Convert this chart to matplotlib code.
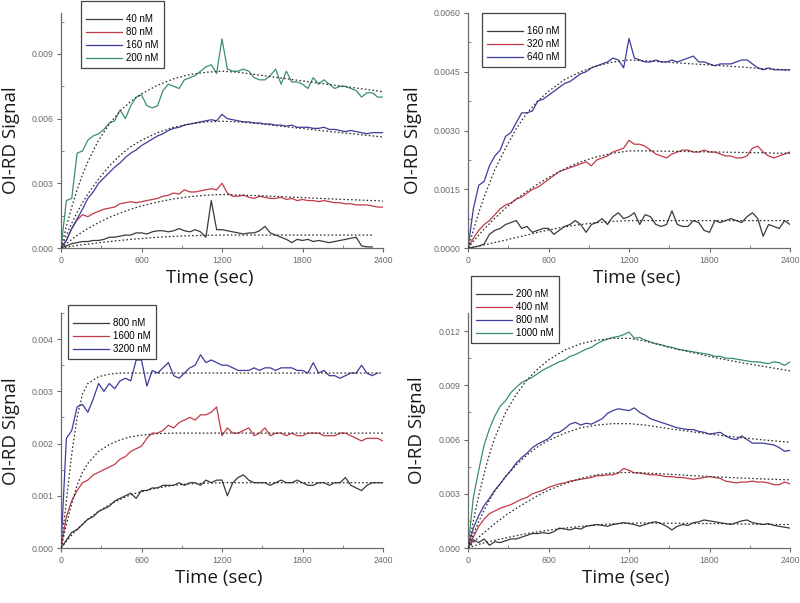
import numpy as np
import matplotlib
matplotlib.use("Agg")
import matplotlib.pyplot as plt
from matplotlib.ticker import MultipleLocator, FormatStrFormatter

nan = np.nan

# sampling grid of the measured traces (sec) and of the fitted curves
TIME = np.arange(0, 2401, 40)
FIT_TIME = [0, 40, 80, 120, 160, 200, 280, 360, 440, 520, 600, 720, 840, 960,
            1080, 1200, 1320, 1500, 1680, 1860, 2040, 2200, 2320, 2400]

# all signals in units of 1e-3
# ---- panel A : 40 / 80 / 160 / 200 nM
A_LABELS = ["40 nM", "80 nM", "160 nM", "200 nM"]
A_40 = [0, 0.1, 0.2, 0.25, 0.3, 0.3, 0.35, 0.35, 0.4, 0.5,
        0.5, 0.55, 0.6, 0.6, 0.7, 0.7, 0.65, 0.75, 0.8, 0.8,
        0.75, 0.8, 0.9, 0.8, 0.75, 0.85, 0.75, 0.5, 2.2, 0.85,
        0.85, 0.8, 0.75, 0.7, 0.65, 0.7, 0.7, 0.8, 1.0, 0.7,
        0.6, 0.5, 0.4, 0.25, 0.4, 0.35, 0.4, 0.3, 0.35, 0.3,
        0.25, 0.3, 0.35, 0.4, 0.45, 0.5, 0.1, 0.05, 0.05, nan,
        nan]
A_80 = [0, 0.35, 0.9, 1.3, 1.55, 1.45, 1.6, 1.7, 1.8, 1.85,
        1.9, 2.05, 2.1, 2.15, 2.1, 2.15, 2.2, 2.25, 2.3, 2.4,
        2.45, 2.55, 2.5, 2.7, 2.6, 2.6, 2.65, 2.7, 2.75, 2.7,
        3.0, 2.55, 2.4, 2.4, 2.45, 2.35, 2.3, 2.4, 2.35, 2.3,
        2.3, 2.35, 2.25, 2.3, 2.2, 2.25, 2.2, 2.2, 2.15, 2.2,
        2.15, 2.1, 2.1, 2.05, 2.05, 2.0, 2.0, 2.0, 1.95, 1.9,
        1.9]
A_160 = [0, 0.35, 0.9, 1.35, 1.8, 2.3, 2.6, 3.0, 3.25, 3.5,
         3.75, 3.95, 4.2, 4.4, 4.55, 4.75, 4.9, 5.05, 5.2, 5.3,
         5.45, 5.55, 5.6, 5.7, 5.75, 5.8, 5.85, 5.9, 5.95, 5.9,
         6.2, 6.0, 5.95, 5.9, 5.85, 5.85, 5.8, 5.8, 5.75, 5.75,
         5.7, 5.7, 5.65, 5.7, 5.6, 5.6, 5.6, 5.55, 5.55, 5.6,
         5.5, 5.5, 5.45, 5.4, 5.45, 5.4, 5.35, 5.3, 5.35, 5.35,
         5.35]
A_200 = [0, 2.2, 2.3, 4.4, 4.5, 5.0, 5.2, 5.3, 5.5, 5.8,
         5.9, 6.4, 6.0, 6.6, 7.0, 7.1, 6.6, 6.5, 6.6, 7.3,
         7.6, 7.5, 7.4, 7.8, 7.9, 8.0, 8.2, 8.4, 8.5, 8.1,
         9.7, 8.3, 8.2, 8.2, 8.3, 8.2, 7.9, 7.8, 7.8, 8.0,
         8.3, 7.6, 8.2, 7.7, 7.7, 7.6, 7.4, 7.9, 7.6, 7.8,
         7.6, 7.4, 7.5, 7.5, 7.4, 7.3, 7.0, 7.2, 7.2, 7.0,
         7.0]
A_FIT_40 = [0, 0.04, 0.08, 0.12, 0.15, 0.18, 0.24, 0.3, 0.35, 0.4, 0.44, 0.5,
            0.54, 0.57, 0.59, 0.6, 0.6, 0.6, 0.6, 0.6, 0.6, 0.6, 0.6, nan]
A_FIT_80 = [0, 0.2, 0.4, 0.58, 0.75, 0.9, 1.18, 1.42, 1.62, 1.8, 1.95, 2.13,
            2.28, 2.38, 2.45, 2.48, 2.46, 2.42, 2.37, 2.32, 2.27, 2.23, 2.2, 2.18]
A_FIT_160 = [0, 0.6, 1.15, 1.65, 2.1, 2.5, 3.2, 3.8, 4.3, 4.7, 5.0, 5.35,
             5.6, 5.75, 5.85, 5.88, 5.85, 5.75, 5.62, 5.5, 5.38, 5.28, 5.2, 5.15]
A_FIT_200 = [0, 1.0, 1.9, 2.7, 3.4, 4.0, 5.0, 5.75, 6.35, 6.8, 7.15, 7.55,
             7.85, 8.05, 8.15, 8.2, 8.15, 8.0, 7.85, 7.7, 7.55, 7.42, 7.32, 7.25]

# ---- panel B : 160 / 320 / 640 nM
B_LABELS = ["160 nM", "320 nM", "640 nM"]
B_160 = [0, 0.02, 0.05, 0.1, 0.35, 0.45, 0.5, 0.6, 0.65, 0.7,
         0.5, 0.55, 0.4, 0.45, 0.5, 0.5, 0.35, 0.45, 0.55, 0.6,
         0.7, 0.6, 0.4, 0.6, 0.65, 0.75, 0.6, 0.8, 0.9, 0.75,
         0.8, 0.9, 0.6, 0.85, 0.8, 0.6, 0.55, 0.6, 0.95, 0.6,
         0.55, 0.55, 0.7, 0.65, 0.45, 0.4, 0.7, 0.65, 0.7, 0.75,
         0.7, 0.65, 0.8, 0.9, 0.75, 0.3, 0.6, 0.55, 0.5, 0.7,
         0.6]
B_320 = [0, 0.25, 0.45, 0.6, 0.7, 0.85, 1.0, 1.1, 1.15, 1.25,
         1.3, 1.4, 1.5, 1.55, 1.65, 1.75, 1.85, 1.95, 2.0, 2.05,
         2.1, 2.15, 2.2, 2.1, 2.25, 2.3, 2.35, 2.45, 2.5, 2.55,
         2.75, 2.65, 2.65, 2.6, 2.5, 2.4, 2.35, 2.3, 2.4, 2.45,
         2.5, 2.5, 2.45, 2.45, 2.5, 2.45, 2.45, 2.4, 2.35, 2.35,
         2.3, 2.3, 2.35, 2.55, 2.6, 2.45, 2.35, 2.3, 2.35, 2.4,
         2.45]
B_640 = [0, 1.0, 1.6, 1.7, 2.1, 2.35, 2.5, 2.85, 2.95, 3.2,
         3.45, 3.45, 3.5, 3.75, 3.8, 3.9, 4.0, 4.1, 4.2, 4.25,
         4.35, 4.45, 4.5, 4.6, 4.65, 4.7, 4.75, 4.85, 4.8, 4.6,
         5.35, 4.85, 4.8, 4.75, 4.75, 4.8, 4.75, 4.75, 4.8, 4.75,
         4.8, 4.85, 4.9, 4.75, 4.75, 4.7, 4.65, 4.7, 4.7, 4.7,
         4.75, 4.8, 4.8, 4.7, 4.6, 4.55, 4.6, 4.55, 4.55, 4.55,
         4.55]
B_FIT_160 = [0, 0.02, 0.05, 0.08, 0.11, 0.14, 0.2, 0.27, 0.33, 0.4, 0.46, 0.54,
             0.6, 0.65, 0.68, 0.7, 0.7, 0.7, 0.7, 0.7, 0.7, 0.7, 0.7, 0.7]
B_FIT_320 = [0, 0.17, 0.33, 0.48, 0.62, 0.76, 1.02, 1.25, 1.45, 1.63, 1.8, 2.02,
             2.2, 2.33, 2.42, 2.48, 2.48, 2.47, 2.46, 2.45, 2.44, 2.43, 2.42, 2.42]
B_FIT_640 = [0, 0.45, 0.9, 1.3, 1.65, 2.0, 2.55, 3.05, 3.45, 3.75, 4.0, 4.3,
             4.5, 4.65, 4.75, 4.8, 4.78, 4.74, 4.7, 4.66, 4.62, 4.58, 4.56, 4.54]

# ---- panel C : 800 / 1600 / 3200 nM
C_LABELS = ["800 nM", "1600 nM", "3200 nM"]
C_800 = [0, 0.15, 0.3, 0.35, 0.45, 0.55, 0.6, 0.7, 0.75, 0.8,
         0.9, 0.95, 1.0, 1.05, 0.95, 1.1, 1.1, 1.15, 1.15, 1.2,
         1.2, 1.2, 1.25, 1.2, 1.25, 1.25, 1.2, 1.3, 1.25, 1.3,
         1.3, 1.0, 1.25, 1.35, 1.4, 1.3, 1.25, 1.25, 1.25, 1.2,
         1.25, 1.3, 1.25, 1.25, 1.3, 1.25, 1.2, 1.2, 1.25, 1.25,
         1.2, 1.25, 1.25, 1.35, 1.2, 1.15, 1.1, 1.2, 1.25, 1.25,
         1.25]
C_1600 = [0, 0.6, 0.9, 1.1, 1.25, 1.3, 1.4, 1.45, 1.5, 1.55,
          1.6, 1.7, 1.75, 1.85, 1.9, 1.95, 2.1, 2.2, 2.2, 2.25,
          2.35, 2.3, 2.4, 2.45, 2.5, 2.45, 2.55, 2.55, 2.6, 2.7,
          2.15, 2.3, 2.2, 2.2, 2.25, 2.3, 2.15, 2.2, 2.3, 2.15,
          2.2, 2.2, 2.15, 2.2, 2.15, 2.15, 2.2, 2.2, 2.2, 2.15,
          2.15, 2.15, 2.2, 2.2, 2.15, 2.1, 2.05, 2.1, 2.1, 2.1,
          2.05]
C_3200 = [0, 2.1, 2.25, 2.7, 2.75, 2.6, 2.85, 3.15, 3.0, 3.15,
          3.05, 3.2, 3.25, 3.2, 3.6, 3.6, 3.1, 3.4, 3.35, 3.45,
          3.55, 3.3, 3.25, 3.35, 3.45, 3.5, 3.7, 3.55, 3.6, 3.55,
          3.5, 3.5, 3.45, 3.4, 3.4, 3.4, 3.45, 3.4, 3.45, 3.45,
          3.4, 3.45, 3.45, 3.45, 3.4, 3.4, 3.35, 3.55, 3.35, 3.4,
          3.3, 3.3, 3.25, 3.3, 3.35, 3.35, 3.5, 3.35, 3.3, 3.35,
          nan]
C_FIT_800 = [0, 0.13, 0.25, 0.36, 0.46, 0.55, 0.7, 0.83, 0.93, 1.02, 1.08, 1.15,
             1.2, 1.23, 1.24, 1.25, 1.25, 1.25, 1.25, 1.25, 1.25, 1.25, 1.25, 1.25]
C_FIT_1600 = [0, 0.45, 0.85, 1.2, 1.45, 1.62, 1.85, 1.98, 2.07, 2.13, 2.16, 2.19,
              2.2, 2.2, 2.2, 2.2, 2.2, 2.2, 2.2, 2.2, 2.2, 2.2, 2.2, 2.2]
C_FIT_3200 = [0, 0.9, 1.8, 2.5, 2.95, 3.15, 3.28, 3.33, 3.35, 3.35, 3.35, 3.35,
              3.35, 3.35, 3.35, 3.35, 3.35, 3.35, 3.35, 3.35, 3.35, 3.35, 3.35, 3.35]

# ---- panel D : 200 / 400 / 800 / 1000 nM
D_LABELS = ["200 nM", "400 nM", "800 nM", "1000 nM"]
D_200 = [0, 0.45, 0.3, 0.5, 0.15, 0.35, 0.3, 0.4, 0.5, 0.5,
         0.6, 0.7, 0.8, 0.8, 0.85, 0.8, 0.9, 1.1, 1.05, 1.0,
         1.1, 1.05, 1.2, 1.25, 1.3, 1.25, 1.2, 1.3, 1.35, 1.4,
         1.35, 1.3, 1.2, 1.3, 1.4, 1.45, 1.35, 1.2, 1.0, 1.2,
         1.3, 1.25, 1.4, 1.45, 1.55, 1.5, 1.45, 1.4, 1.35, 1.3,
         1.4, 1.5, 1.55, 1.4, 1.35, 1.3, 1.35, 1.25, 1.2, 1.15,
         1.1]
D_400 = [0, 0.6, 1.2, 1.6, 1.9, 2.05, 2.2, 2.3, 2.4, 2.55,
         2.7, 2.8, 3.0, 3.1, 3.2, 3.35, 3.45, 3.55, 3.6, 3.7,
         3.75, 3.8, 3.85, 3.9, 4.0, 4.0, 4.05, 4.05, 4.15, 4.4,
         4.3, 4.15, 4.15, 4.1, 4.05, 4.05, 4.0, 3.95, 3.95, 3.9,
         3.9, 3.85, 3.8, 3.85, 3.9, 3.95, 3.9, 3.85, 3.7, 3.65,
         3.6, 3.65, 3.65, 3.7, 3.65, 3.65, 3.6, 3.5, 3.5, 3.65,
         3.55]
D_800 = [0, 1.1, 1.8, 2.35, 2.75, 3.2, 3.55, 3.95, 4.3, 4.7,
         5.0, 5.25, 5.55, 5.75, 5.9, 6.05, 6.35, 6.4, 6.6, 6.85,
         6.95, 6.8, 6.9, 6.85, 7.0, 7.15, 7.45, 7.6, 7.7, 7.65,
         7.6, 7.75, 7.5, 7.35, 7.15, 7.05, 6.95, 6.85, 6.75, 6.65,
         6.6, 6.55, 6.55, 6.45, 6.4, 6.3, 6.35, 6.4, 6.2, 6.05,
         6.0, 6.2, 6.0, 5.8, 5.8, 5.8, 5.75, 5.7, 5.55, 5.35,
         5.4]
D_1000 = [0, 2.8, 4.3, 5.7, 6.6, 7.3, 7.85, 8.15, 8.6, 8.9,
          9.15, 9.3, 9.45, 9.65, 9.85, 10.0, 10.15, 10.3, 10.4, 10.6,
          10.7, 10.85, 11.0, 11.1, 11.3, 11.45, 11.55, 11.65, 11.7, 11.8,
          11.95, 11.6, 11.65, 11.5, 11.4, 11.3, 11.25, 11.15, 11.1, 11.0,
          10.95, 10.9, 10.85, 10.8, 10.75, 10.7, 10.6, 10.6, 10.5, 10.5,
          10.45, 10.4, 10.35, 10.3, 10.3, 10.25, 10.2, 10.3, 10.25, 10.1,
          10.3]
D_FIT_200 = [0, 0.1, 0.2, 0.28, 0.36, 0.43, 0.56, 0.68, 0.8, 0.9, 0.98, 1.1,
             1.2, 1.28, 1.34, 1.38, 1.38, 1.37, 1.36, 1.35, 1.33, 1.31, 1.3, 1.3]
D_FIT_400 = [0, 0.3, 0.6, 0.85, 1.1, 1.35, 1.8, 2.2, 2.55, 2.9, 3.2, 3.55,
             3.85, 4.05, 4.15, 4.18, 4.15, 4.08, 4.0, 3.93, 3.87, 3.82, 3.79, 3.77]
D_FIT_800 = [0, 0.75, 1.45, 2.1, 2.65, 3.15, 3.95, 4.6, 5.15, 5.6, 5.95, 6.35,
             6.65, 6.8, 6.88, 6.88, 6.8, 6.6, 6.42, 6.25, 6.1, 5.98, 5.9, 5.85]
D_FIT_1000 = [0, 1.5, 2.9, 4.1, 5.2, 6.1, 7.5, 8.5, 9.3, 9.9, 10.4, 10.95,
              11.3, 11.5, 11.6, 11.6, 11.45, 11.1, 10.8, 10.5, 10.25, 10.05, 9.9, 9.8]

X_TICKS = [0, 600, 1200, 1800, 2400]

BLACK = "#3a3a3a"
RED = "#c23a48"
BLUE = "#3c3c9c"
GREEN = "#3a8f70"
FIT_COLOR = "#2b2b2b"

W, H = 800, 603
LABEL_FONT = ["Open Sans", "DejaVu Sans"]
SMALL_FONT = ["Liberation Sans", "DejaVu Sans"]

panels = [
    dict(rect=(61, 13, 383, 248), ylim=0.0109, step=0.003, fmt="%.3f",
         labels=A_LABELS, data=[A_40, A_80, A_160, A_200],
         fits=[A_FIT_40, A_FIT_80, A_FIT_160, A_FIT_200],
         colors=[BLACK, RED, BLUE, GREEN], legend=(81, 1),
         xlabel=(210, 278), ylabel=(11, 140)),
    dict(rect=(468, 13, 790, 248), ylim=0.006, step=0.0015, fmt="%.4f",
         labels=B_LABELS, data=[B_160, B_320, B_640],
         fits=[B_FIT_160, B_FIT_320, B_FIT_640],
         colors=[BLACK, RED, BLUE], legend=(482, 13),
         xlabel=(637, 278), ylabel=(413, 140)),
    dict(rect=(61, 313, 383, 548), ylim=0.0045, step=0.001, fmt="%.3f",
         labels=C_LABELS, data=[C_800, C_1600, C_3200],
         fits=[C_FIT_800, C_FIT_1600, C_FIT_3200],
         colors=[BLACK, RED, BLUE], legend=(68, 305),
         xlabel=(219, 578), ylabel=(11, 431)),
    dict(rect=(468, 313, 790, 548), ylim=0.0130, step=0.003, fmt="%.3f",
         labels=D_LABELS, data=[D_200, D_400, D_800, D_1000],
         fits=[D_FIT_200, D_FIT_400, D_FIT_800, D_FIT_1000],
         colors=[BLACK, RED, BLUE, GREEN], legend=(471, 276),
         xlabel=(626, 578), ylabel=(417, 430)),
]

fig = plt.figure(figsize=(W / 100, H / 100), dpi=100)

for p in panels:
    x0, y0, x1, y1 = p["rect"]
    ax = fig.add_axes([x0 / W, 1 - y1 / H, (x1 - x0) / W, (y1 - y0) / H])

    handles = []
    for values, fit, color, label in zip(p["data"], p["fits"], p["colors"], p["labels"]):
        line, = ax.plot(TIME, np.array(values) * 1e-3, color=color, lw=0.9,
                        label=label, zorder=2)
        ax.plot(FIT_TIME, np.array(fit) * 1e-3, color=FIT_COLOR, lw=0.9,
                linestyle=(0, (1.3, 1.8)), zorder=3)
        handles.append(line)

    ax.set_xlim(0, 2400)
    ax.set_ylim(0, p["ylim"])
    ax.set_xticks(X_TICKS)
    ax.xaxis.set_minor_locator(MultipleLocator(300))
    ax.yaxis.set_major_locator(MultipleLocator(p["step"]))
    ax.yaxis.set_minor_locator(MultipleLocator(p["step"] / 2))
    ax.yaxis.set_major_formatter(FormatStrFormatter(p["fmt"]))

    for side in ["top", "right"]:
        ax.spines[side].set_visible(False)
    for side in ["left", "bottom"]:
        ax.spines[side].set_color("#6a6a6a")
        ax.spines[side].set_linewidth(0.9)

    ax.tick_params(which="major", direction="out", length=3, width=0.8,
                   color="#6a6a6a", labelsize=6.3, labelcolor="#6a6a6a", pad=2.5)
    ax.tick_params(which="minor", direction="in", length=2, width=0.7, color="#888888")
    for lab in ax.get_xticklabels() + ax.get_yticklabels():
        lab.set_family(SMALL_FONT)

    lx, ly = p["legend"]
    leg = ax.legend(handles=handles, loc="upper left",
                    bbox_to_anchor=(lx / W, 1 - ly / H), bbox_transform=fig.transFigure,
                    borderaxespad=0, fancybox=False, frameon=True, framealpha=1,
                    edgecolor="#444444", handlelength=3.7, handletextpad=0.4,
                    labelspacing=0.3, borderpad=0.55, title=" ", title_fontsize=4.5,
                    prop={"family": SMALL_FONT, "size": 7})
    leg.get_frame().set_linewidth(0.9)

    xl, yl = p["xlabel"]
    fig.text(xl / W, 1 - yl / H, "Time (sec)", ha="center", va="center",
             fontsize=13.5, family=LABEL_FONT, color="#1a1a1a")
    xl, yl = p["ylabel"]
    fig.text(xl / W, 1 - yl / H, "OI-RD Signal", ha="center", va="center",
             rotation=90, fontsize=13.5, family=LABEL_FONT, color="#1a1a1a")

fig.savefig("out.png", dpi=100, facecolor="white")
